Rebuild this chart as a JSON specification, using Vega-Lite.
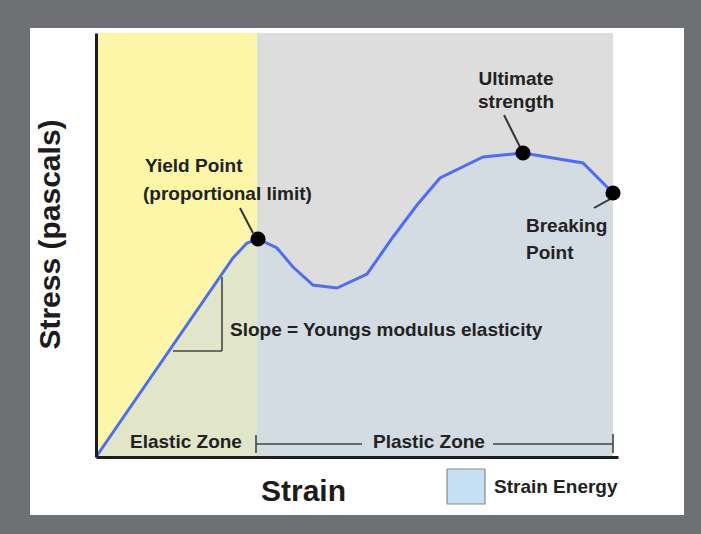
{
  "$schema": "https://vega.github.io/schema/vega-lite/v6.json",
  "width": 522,
  "height": 424,
  "autosize": {"type": "none"},
  "padding": {"left": 96, "top": 33, "right": 83, "bottom": 77},
  "background": "#6f7074",
  "config": {"view": {"stroke": null}},
  "datasets": {
    "boxes": [
      {"name": "page", "x": -66, "x2": 588, "y": 429, "y2": -58, "fill": "#ffffff"},
      {"name": "elastic", "x": 1, "x2": 161, "y": 424, "y2": 0, "fill": "#fdf6a8"},
      {"name": "plastic", "x": 161, "x2": 517, "y": 424, "y2": 0, "fill": "#dddddd"}
    ],
    "curve": [
      {"strain": 0, "stress": 0},
      {"strain": 137, "stress": 199},
      {"strain": 151, "stress": 214},
      {"strain": 162, "stress": 218},
      {"strain": 181, "stress": 209},
      {"strain": 197, "stress": 190},
      {"strain": 217, "stress": 172},
      {"strain": 241, "stress": 169},
      {"strain": 271, "stress": 183},
      {"strain": 297, "stress": 220},
      {"strain": 321, "stress": 252},
      {"strain": 344, "stress": 279},
      {"strain": 387, "stress": 300},
      {"strain": 427, "stress": 304},
      {"strain": 487, "stress": 294},
      {"strain": 517, "stress": 264}
    ],
    "points": [
      {"name": "Yield Point", "strain": 162, "stress": 218},
      {"name": "Ultimate strength", "strain": 427, "stress": 304},
      {"name": "Breaking Point", "strain": 517, "stress": 264}
    ],
    "leaders": [
      {"x": 144, "y": 249, "x2": 157, "y2": 224},
      {"x": 408, "y": 342, "x2": 424, "y2": 310},
      {"x": 516, "y": 259, "x2": 498, "y2": 249}
    ],
    "guides": [
      {"x": 77, "y": 106, "x2": 126, "y2": 106},
      {"x": 126, "y": 106, "x2": 126, "y2": 180},
      {"x": 160, "y": 4, "x2": 160, "y2": 22},
      {"x": 160, "y": 13, "x2": 266, "y2": 13},
      {"x": 397, "y": 13, "x2": 517, "y2": 13},
      {"x": 517, "y": 4, "x2": 517, "y2": 23}
    ],
    "leftText": [
      {"label": "Yield Point", "x": 49, "y": 285},
      {"label": "(proportional limit)", "x": 47, "y": 257},
      {"label": "Breaking", "x": 430, "y": 225},
      {"label": "Point", "x": 430, "y": 198},
      {"label": "Slope = Youngs modulus elasticity", "x": 134, "y": 121},
      {"label": "Elastic Zone", "x": 34, "y": 9},
      {"label": "Plastic Zone", "x": 277, "y": 9},
      {"label": "Strain Energy", "x": 398, "y": -36}
    ],
    "centerText": [
      {"label": "Ultimate", "x": 420, "y": 372},
      {"label": "strength", "x": 420, "y": 349}
    ],
    "legend": [
      {"name": "Strain Energy", "x": 351, "x2": 389, "y": -12, "y2": -47}
    ]
  },
  "layer": [
    {
      "data": {"name": "boxes"},
      "mark": {"type": "rect"},
      "encoding": {
        "x": {"field": "x", "type": "quantitative", "scale": {"domain": [0, 522], "nice": false, "zero": false},
          "axis": {"title": "Strain", "domain": true, "domainColor": "#1c1c1c", "domainWidth": 3, "ticks": false, "labels": false, "grid": false,
            "titleFont": "Liberation Sans", "titleFontSize": 30, "titleFontWeight": "bold", "titleColor": "#1c1c1c",
            "titleX": 207, "titleY": 43, "titleAlign": "center", "titleBaseline": "alphabetic", "zindex": 1}},
        "x2": {"field": "x2"},
        "y": {"field": "y", "type": "quantitative", "scale": {"domain": [0, 424], "nice": false, "zero": false},
          "axis": {"title": "Stress (pascals)", "domain": true, "domainColor": "#1c1c1c", "domainWidth": 3, "ticks": false, "labels": false, "grid": false,
            "titleFont": "Liberation Sans", "titleFontSize": 30, "titleFontWeight": "bold", "titleColor": "#1c1c1c",
            "titleX": -37, "titleY": 201, "titleAngle": -90, "titleAlign": "center", "titleBaseline": "alphabetic", "zindex": 1}},
        "y2": {"field": "y2"},
        "fill": {"field": "fill", "type": "nominal", "scale": null}
      }
    },
    {
      "data": {"name": "curve"},
      "mark": {"type": "area", "color": "#cbd9e8", "opacity": 0.55},
      "encoding": {
        "x": {"field": "strain", "type": "quantitative"},
        "y": {"field": "stress", "type": "quantitative"}
      }
    },
    {
      "data": {"name": "guides"},
      "mark": {"type": "rule", "color": "#444444", "strokeWidth": 1.6},
      "encoding": {
        "x": {"field": "x", "type": "quantitative"},
        "x2": {"field": "x2"},
        "y": {"field": "y", "type": "quantitative"},
        "y2": {"field": "y2"}
      }
    },
    {
      "data": {"name": "curve"},
      "mark": {"type": "line", "color": "#4d6ef2", "strokeWidth": 3},
      "encoding": {
        "x": {"field": "strain", "type": "quantitative"},
        "y": {"field": "stress", "type": "quantitative"}
      }
    },
    {
      "data": {"name": "leaders"},
      "mark": {"type": "rule", "color": "#333333", "strokeWidth": 2},
      "encoding": {
        "x": {"field": "x", "type": "quantitative"},
        "x2": {"field": "x2"},
        "y": {"field": "y", "type": "quantitative"},
        "y2": {"field": "y2"}
      }
    },
    {
      "data": {"name": "points"},
      "mark": {"type": "circle", "color": "#000000", "opacity": 1, "size": 230},
      "encoding": {
        "x": {"field": "strain", "type": "quantitative"},
        "y": {"field": "stress", "type": "quantitative"}
      }
    },
    {
      "data": {"name": "leftText"},
      "mark": {"type": "text", "align": "left", "baseline": "alphabetic", "font": "Liberation Sans", "fontWeight": "bold", "fontSize": 19, "color": "#222222"},
      "encoding": {
        "x": {"field": "x", "type": "quantitative"},
        "y": {"field": "y", "type": "quantitative"},
        "text": {"field": "label"}
      }
    },
    {
      "data": {"name": "centerText"},
      "mark": {"type": "text", "align": "center", "baseline": "alphabetic", "font": "Liberation Sans", "fontWeight": "bold", "fontSize": 19, "color": "#222222"},
      "encoding": {
        "x": {"field": "x", "type": "quantitative"},
        "y": {"field": "y", "type": "quantitative"},
        "text": {"field": "label"}
      }
    },
    {
      "data": {"name": "legend"},
      "mark": {"type": "rect", "fill": "#c6dff5", "stroke": "#8a8a8a", "strokeWidth": 1.2},
      "encoding": {
        "x": {"field": "x", "type": "quantitative"},
        "x2": {"field": "x2"},
        "y": {"field": "y", "type": "quantitative"},
        "y2": {"field": "y2"}
      }
    }
  ]
}
